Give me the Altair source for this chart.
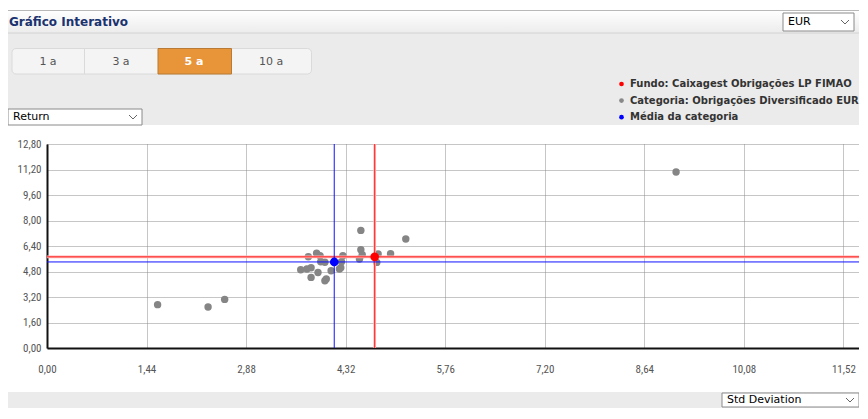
import altair as alt
import pandas as pd

# ---------------- data ----------------
cat_sd = [1.60, 2.33, 2.57, 9.10,
          3.67, 3.76, 3.82, 3.92, 3.82, 4.04, 4.02, 4.11, 4.23, 4.25,
          3.78, 3.90, 3.95, 3.96, 4.02, 4.28, 4.26,
          4.54, 5.19, 4.54, 4.56, 4.52, 4.79, 4.77, 4.97]
cat_ret = [2.72, 2.57, 3.05, 11.04,
           4.91, 4.96, 5.04, 4.74, 4.43, 4.33, 4.22, 4.85, 4.96, 5.04,
           5.73, 5.95, 5.79, 5.41, 5.38, 5.79, 5.41,
           7.38, 6.84, 6.17, 5.85, 5.58, 5.90, 5.37, 5.92]
fund_sd = [4.74]
fund_ret = [5.72]
mean_sd = [4.155]
mean_ret = [5.40]
x_ticks = [0, 1.44, 2.88, 4.32, 5.76, 7.20, 8.64, 10.08, 11.52]
y_ticks = [0, 1.6, 3.2, 4.8, 6.4, 8.0, 9.6, 11.2, 12.8]
legend_labels = ["Fundo: Caixagest Obrigações LP FIMAO",
                 "Categoria: Obrigações Diversificado EUR",
                 "Média da categoria"]
legend_colors = ["#ff0000", "#888888", "#0000ff"]
tab_labels = ["1 a", "3 a", "5 a", "10 a"]

cat_df = pd.DataFrame({"sd": cat_sd, "ret": cat_ret})
fund_df = pd.DataFrame({"sd": fund_sd, "ret": fund_ret})
mean_df = pd.DataFrame({"sd": mean_sd, "ret": mean_ret})
dummy = pd.DataFrame({"d": [0]})

# plot origin on the page
X0, Y0 = 47, 144
LABEL_FONT = "Liberation Sans Narrow, Roboto Condensed, DejaVu Sans Condensed, sans-serif"
UI_FONT = "DejaVu Sans, Verdana, sans-serif"


def box(x1, y1, x2, y2, fill, stroke=None, sw=1, r=0):
    kw = dict(fill=fill, cornerRadius=r)
    if stroke:
        kw.update(stroke=stroke, strokeWidth=sw)
    return alt.Chart(dummy).mark_rect(**kw).encode(
        x=alt.value(x1 - X0), x2=alt.value(x2 - X0),
        y=alt.value(y1 - Y0), y2=alt.value(y2 - Y0))


def line(x1, y1, x2, y2, color, sw=1):
    return alt.Chart(dummy).mark_rule(color=color, strokeWidth=sw).encode(
        x=alt.value(x1 - X0), x2=alt.value(x2 - X0),
        y=alt.value(y1 - Y0), y2=alt.value(y2 - Y0))


def txt(x, y, s, size=11, weight="normal", color="#000", align="left"):
    return alt.Chart(dummy).mark_text(
        align=align, baseline="middle", font=UI_FONT, fontSize=size,
        fontWeight=weight, color=color).encode(
        x=alt.value(x - X0), y=alt.value(y - Y0), text=alt.value(s))


def chevron(cx, cy):
    return [line(cx - 4, cy - 2, cx, cy + 2, "#666"),
            line(cx, cy + 2, cx + 4, cy - 2, "#666")]


def dropdown(x1, y1, x2, y2, label):
    return [box(x1, y1, x2, y2, "#ffffff", "#8a8a8a", 1),
            txt(x1 + 5, (y1 + y2) / 2, label, size=11, color="#000")] + \
        chevron(x2 - 9, (y1 + y2) / 2)


layers = []
# background regions
layers.append(box(0, 33, 868, 125, "#ebebeb"))
layers.append(box(0, 392, 868, 408, "#ebebeb"))
header_grad = alt.Gradient(gradient="linear",
                           stops=[alt.GradientStop(color="#ffffff", offset=0),
                                  alt.GradientStop(color="#ececec", offset=1)],
                           x1=0, x2=0, y1=0, y2=1)
layers.append(alt.Chart(dummy).mark_rect(fill=header_grad).encode(
    x=alt.value(0 - X0), x2=alt.value(868 - X0),
    y=alt.value(10 - Y0), y2=alt.value(33 - Y0)))
layers.append(line(0, 10.5, 868, 10.5, "#b8b8b8"))
layers.append(line(0, 33, 868, 33, "#d2d2d2"))
layers.append(txt(9, 22, "Gráfico Interativo", size=12, weight="bold", color="#1a3370"))
layers += dropdown(783, 13, 854, 31, "EUR")

# tabs
layers.append(box(12, 48.5, 311.5, 74, "#f4f4f4", "#dadada", 1, 4))
layers.append(line(84.5, 49, 84.5, 74, "#dadada"))
layers.append(box(158, 48.5, 231.5, 74, "#e8953a", "#b87a34", 1))
tab_centers = [48, 121, 194, 271]
for lab, cx in zip(tab_labels, tab_centers):
    if lab == "5 a":
        layers.append(txt(cx, 62, lab, size=11, weight="bold", color="#ffffff", align="center"))
    else:
        layers.append(txt(cx, 62, lab, size=11, color="#555555", align="center"))

# legend
for i, (lab, col) in enumerate(zip(legend_labels, legend_colors)):
    yy = 84 + i * 16.6
    layers.append(alt.Chart(dummy).mark_circle(size=22, opacity=1, color=col).encode(
        x=alt.value(621.5 - X0), y=alt.value(yy - Y0)))
    layers.append(txt(630, yy, lab, size=10, weight="bold", color="#333333"))

layers += dropdown(8, 109, 142, 125, "Return")
layers += dropdown(722, 393, 859, 407, "Std Deviation")

# ---------------- data layers ----------------
label_expr = "replace(format(datum.value, '.2f'), '.', ',')"
xscale = alt.Scale(domain=[0, 11.746], nice=False, zero=False)
yscale = alt.Scale(domain=[0, 12.8], nice=False, zero=False)
common = dict(labelExpr=label_expr, title=None, grid=True,
              gridDash=[1, 1], gridColor="#8c8c8c", gridWidth=1, ticks=False,
              domainColor="#111111", domainWidth=2,
              labelFont=LABEL_FONT, labelFontSize=11, labelColor="#555555",
              labelFlush=False, labelOverlap=False)
xaxis = alt.Axis(values=x_ticks, tickCount=len(x_ticks), labelPadding=15, **common)
yaxis = alt.Axis(values=y_ticks, tickCount=len(y_ticks), labelPadding=6, **common)

X = alt.X("sd:Q", scale=xscale, axis=xaxis)
Y = alt.Y("ret:Q", scale=yscale, axis=yaxis)

pts = alt.Chart(cat_df).mark_circle(size=55, color="#858585", opacity=1).encode(x=X, y=Y)

fund_v_glow = alt.Chart(fund_df).mark_rule(color="#ffb4b4", strokeWidth=2.6).encode(x=X)
fund_h_glow = alt.Chart(fund_df).mark_rule(color="#ffb4b4", strokeWidth=2.6).encode(y=Y)
fund_v = alt.Chart(fund_df).mark_rule(color="#ff2020", strokeWidth=1).encode(x=X)
fund_h = alt.Chart(fund_df).mark_rule(color="#ff2020", strokeWidth=1).encode(y=Y)
mean_v = alt.Chart(mean_df).mark_rule(color="#1010ff", strokeWidth=1).encode(x=X)
mean_h = alt.Chart(mean_df).mark_rule(color="#1010ff", strokeWidth=1).encode(y=Y)
fund_pt = alt.Chart(fund_df).mark_circle(size=75, color="#ff0000", opacity=1).encode(x=X, y=Y)
mean_pt = alt.Chart(mean_df).mark_circle(size=75, color="#0000ff", opacity=1).encode(x=X, y=Y)

chart = alt.layer(
    pts, fund_v_glow, fund_h_glow, fund_v, fund_h, mean_v, mean_h,
    *layers, fund_pt, mean_pt
).properties(
    width=812, height=204,
    padding={"left": 39, "top": 136, "right": 0, "bottom": 60},
    autosize=alt.AutoSizeParams(type="none"),
    background="#ffffff",
).configure_view(stroke=None)

chart.save("out.html", embed_options={"renderer": "svg", "actions": False})
